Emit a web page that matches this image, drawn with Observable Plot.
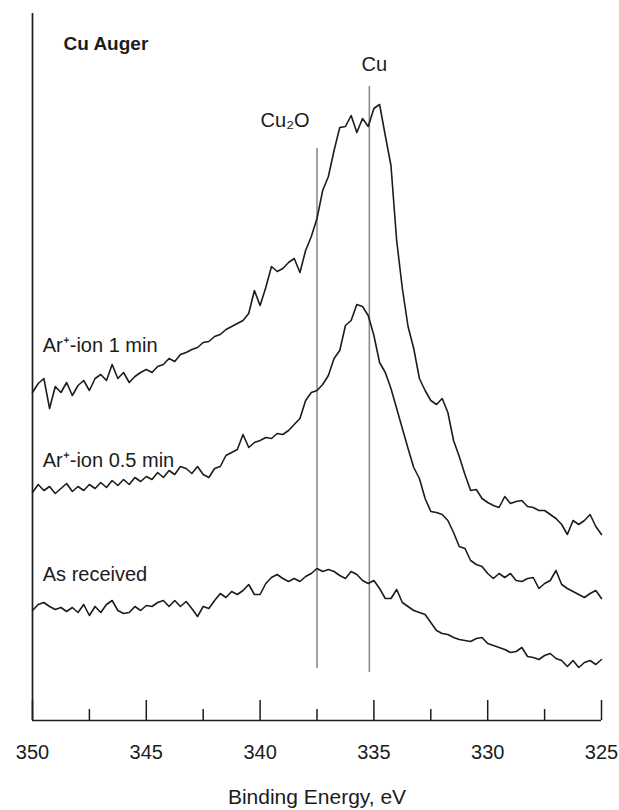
<!DOCTYPE html>
<html>
<head>
<meta charset="utf-8">
<script src="https://cdn.jsdelivr.net/npm/d3@7"></script>
<script src="https://cdn.jsdelivr.net/npm/@observablehq/plot@0.6"></script>
<style>
  body { margin: 0; background: #fff; }
  #chart svg { display: block; }
</style>
</head>
<body>
<div id="chart"></div>
<script>
// Cu LMM Auger spectra, sampled every 0.25 eV from 350 eV down to 325 eV.
const energyStart = 350;
const energyStep = 0.25;

// Intensity (arbitrary units, offset per trace) after 1 min Ar+ sputtering
const argon1min = [
  328, 337, 342, 312, 334, 328, 338, 325, 335, 340,
  330, 342, 346, 340, 356, 342, 348, 338, 344, 348,
  351, 348, 354, 356, 362, 359, 366, 368, 371, 373,
  378, 379, 384, 386, 391, 394, 397, 400, 407, 430,
  415, 433, 454, 449, 452, 458, 462, 448, 470, 484,
  502, 530, 544, 570, 593, 594, 605, 588, 602, 594,
  612, 616, 585, 555, 480, 432, 394, 372, 342, 330,
  320, 316, 322, 308, 280, 264, 246, 230, 231, 222,
  218, 215, 213, 224, 217, 219, 220, 214, 213, 210,
  210, 206, 202, 196, 186, 200, 196, 200, 206, 194,
  186
];

// Intensity after 0.5 min Ar+ sputtering
const argon05min = [
  228, 236, 230, 234, 227, 232, 237, 229, 234, 230,
  236, 232, 238, 233, 240, 235, 241, 236, 243, 239,
  244, 241, 248, 243, 250, 246, 254, 252, 247, 254,
  246, 243, 252, 254, 265, 268, 271, 286, 273, 278,
  280, 283, 282, 287, 286, 290, 296, 302, 320, 328,
  330, 336, 345, 362, 370, 395, 400, 416, 414, 405,
  385, 358, 348, 332, 312, 292, 272, 253, 242, 222,
  209, 208, 206, 200, 188, 174, 172, 160, 156, 154,
  147, 142, 147, 143, 147, 140, 139, 142, 143, 132,
  137, 140, 150, 136, 132, 129, 126, 123, 127, 130,
  122
];

// Intensity of the as-received surface
const asReceived = [
  110, 116, 118, 114, 111, 113, 109, 113, 108, 116,
  105, 114, 108, 116, 120, 110, 107, 108, 114, 110,
  115, 114, 118, 120, 114, 120, 114, 119, 112, 104,
  114, 112, 120, 127, 123, 129, 126, 130, 136, 126,
  126, 137, 143, 146, 142, 139, 142, 139, 144, 147,
  152, 149, 151, 149, 145, 142, 149, 146, 140, 137,
  140, 132, 122, 122, 131, 118, 114, 110, 108, 106,
  98, 90, 87, 86, 83, 81, 80, 79, 82, 83,
  77, 75, 73, 71, 68, 69, 73, 64, 63, 61,
  65, 67, 62, 60, 54, 60, 53, 58, 60, 56,
  61
];

const seriesNames = ["Ar⁺-ion 1 min", "Ar⁺-ion 0.5 min", "As received"];
const seriesLabelY = [375, 260, 146];

// Reference peak positions
const peakNames = ["Cu₂O", "Cu"];
const peakEnergies = [337.5, 335.2];
const peakTops = [572, 634];
const peakBottoms = [52, 48];

const majorTicks = [350, 345, 340, 335, 330, 325];
const minorTicks = [347.5, 342.5, 337.5, 332.5, 327.5];

// Build long-format rows for the line mark
const traces = [argon1min, argon05min, asReceived];
const rows = traces.flatMap((vals, s) =>
  vals.map((v, i) => ({ series: seriesNames[s], energy: energyStart - i * energyStep, intensity: v }))
);
const peaks = peakNames.map((name, i) => ({
  name, energy: peakEnergies[i], top: peakTops[i], bottom: peakBottoms[i]
}));
const labels = seriesNames.map((name, i) => ({ name, y: seriesLabelY[i] }));

const W = 619, H = 810;
const mTop = 13, mBottom = 90, mLeft = 32, mRight = 18;
const innerH = H - mTop - mBottom;
const ink = "#1c1c1c";
const font = "Liberation Sans, Arial, Helvetica, sans-serif";

const chart = Plot.plot({
  width: W,
  height: H,
  marginTop: mTop,
  marginBottom: mBottom,
  marginLeft: mLeft,
  marginRight: mRight,
  style: { fontFamily: font, color: ink, background: "#fff" },
  x: { domain: [350, 325], ticks: majorTicks },
  y: { domain: [0, 707], axis: null },
  marks: [
    // axis frame: left and bottom lines
    Plot.ruleX([350], { stroke: ink, strokeWidth: 1.7 }),
    Plot.ruleY([0], { x1: 350, x2: 325, stroke: ink, strokeWidth: 1.7 }),
    // inward ticks
    Plot.tickX(majorTicks, { x: d => d, insetTop: innerH - 20, stroke: ink, strokeWidth: 1.5 }),
    Plot.tickX(minorTicks, { x: d => d, insetTop: innerH - 11, stroke: ink, strokeWidth: 1.5 }),
    Plot.axisX(majorTicks, { tickSize: 0, tickPadding: 24, fontSize: 20, fill: ink, label: null }),
    // peak reference lines
    Plot.ruleX(peaks, { x: "energy", y1: "bottom", y2: "top", stroke: "#8c8c8c", strokeWidth: 1.6 }),
    Plot.text(peaks.filter(d => d.name === "Cu"), {
      x: "energy", y: "top", text: "name", dx: 5, dy: -22, fontSize: 20, fill: ink
    }),
    Plot.text(peaks.filter(d => d.name !== "Cu"), {
      x: "energy", y: "top", text: "name", dx: -32, dy: -28, fontSize: 20, fill: ink
    }),
    // spectra
    Plot.line(rows, { x: "energy", y: "intensity", z: "series", stroke: ink, strokeWidth: 1.6, curve: "linear" }),
    // trace labels
    Plot.text(labels, { x: 349.55, y: "y", text: "name", textAnchor: "start", fontSize: 20, fill: ink }),
    // panel title
    Plot.text(["Cu Auger"], { frameAnchor: "top-left", dx: 31, dy: 30, textAnchor: "start", lineAnchor: "middle", fontSize: 19, fontWeight: "bold", fill: ink }),
    // axis title
    Plot.text(["Binding Energy, eV"], { frameAnchor: "bottom", dy: 77, lineAnchor: "middle", fontSize: 21, fill: ink })
  ]
});

document.getElementById("chart").append(chart);
</script>
</body>
</html>
